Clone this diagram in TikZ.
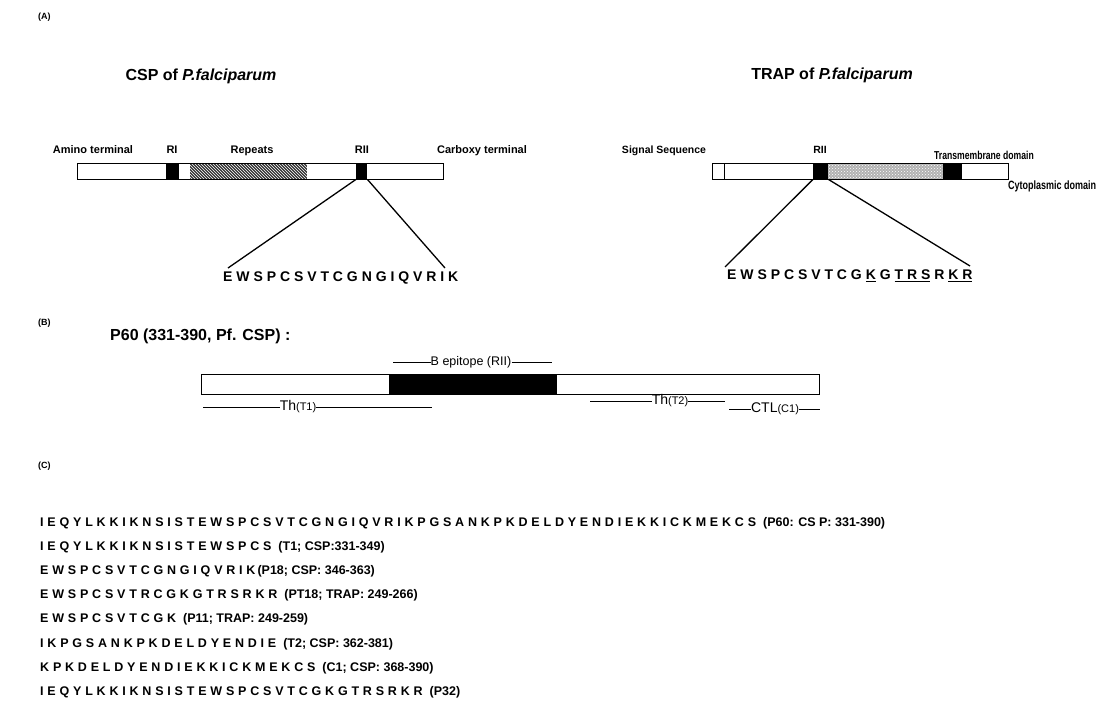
\documentclass[tikz,border=0pt]{standalone}
\usepackage{fontspec}
\setmainfont{Liberation Sans}
\newfontfamily\cond{Liberation Sans}[FakeStretch=0.75]
\usetikzlibrary{patterns}
\newlength\gapw
\newlength\tmpw
\makeatletter
\newcommand\spc[1]{\@tfor\@ch:=#1\do{\@ch\hspace{\gapw}}\unskip}
\makeatother
\newcommand\ua[1]{\settowidth\tmpw{#1}\addtolength\tmpw{\gapw}\rlap{\rule[-2.6pt]{\tmpw}{0.9pt}}#1}
\newcommand\ub[1]{\settowidth\tmpw{#1}\rlap{\rule[-2.6pt]{\tmpw}{0.9pt}}#1}
\newcommand\lbsm[1]{{\fontsize{12.5}{14}\selectfont #1}}
\begin{document}
\begin{tikzpicture}[x=1pt,y=-1pt,
  panel/.style={font=\fontsize{9}{10}\selectfont\bfseries, inner sep=0, anchor=west},
  title/.style={font=\fontsize{16}{18}\selectfont\bfseries, inner sep=0},
  lbl/.style={font=\fontsize{11}{13}\selectfont\bfseries, inner sep=0, anchor=base},
  tlbl/.style={font=\fontsize{10.5}{12}\selectfont\bfseries, inner sep=0, anchor=base},
  seqA/.style={font=\fontsize{14}{16}\selectfont\bfseries\setlength\gapw{3.9pt}, inner sep=0, anchor=west},
  row/.style={font=\fontsize{12.5}{14}\selectfont\bfseries\setlength\gapw{3.8pt}, inner sep=0, anchor=base west},
  outline/.style={draw, line width=1.1pt, inner sep=0, anchor=north west},
  seg/.style={inner sep=0, anchor=north west, minimum height=16pt},
  conn/.style={line width=1.3pt},
  thin/.style={line width=0.8pt},
  ep/.style={font=\fontsize{12.5}{14}\selectfont, inner sep=0},
  epl/.style={font=\fontsize{14}{16}\selectfont, inner sep=0}
]
\useasboundingbox (0,0) rectangle (1099,713);
\fill[white] (0,0) rectangle (1099,713);

% ---------- (A) ----------
\node[panel] (pa) at (38,17) {(A)};
\node[title] (csptitle) at (201,76) {CSP of \textit{P.falciparum}};
\node[title] (traptitle) at (832,75) {TRAP of \textit{P.falciparum}};

% CSP bar
\node[seg, fill=black, minimum width=13pt] (cspri) at (166,163) {};
\node[seg, fill=black!80, minimum width=117pt] (csprep) at (190,163) {};
\fill[pattern=north west lines, pattern color=white] (csprep.north west) rectangle (csprep.south east);
\node[seg, fill=black, minimum width=11pt] (csprii) at (356,163) {};
\node[outline, minimum width=366pt, minimum height=16pt] (cspbar) at (77,163) {};

\node[lbl] (amino) at (93,153) {Amino terminal};
\node[lbl] (rilbl) at (172,153) {RI};
\node[lbl] (replbl) at (252,153) {Repeats};
\node[lbl] (riilbl) at (362,153) {RII};
\node[lbl] (carb) at (482,153) {Carboxy terminal};

\node[seqA] (cspseq) at (223,278) {\spc{EWSPCSVTCGNGIQVRIK}};
\coordinate (cspL) at (228,268);
\coordinate (cspR) at (445,268);
\draw[conn] (csprii.south west) -- (cspL);
\draw[conn] (csprii.south east) -- (cspR);

% TRAP bar
\node[seg, fill=black, minimum width=15pt] (traprii) at (813,163) {};
\node[seg, fill=black!30, minimum width=115pt] (trapst) at (828,163) {};
\fill[pattern=crosshatch dots, pattern color=white] (trapst.north west) rectangle (trapst.south east);
\node[seg, fill=black, minimum width=19pt] (traptm) at (943,163) {};
\node[seg, draw, line width=1.1pt, minimum width=12pt] (trapsig) at (712,163) {};
\node[outline, minimum width=296pt, minimum height=16pt] (trapbar) at (712,163) {};

\node[tlbl] (sigl) at (664,153) {Signal Sequence};
\node[tlbl] (triil) at (820,153) {RII};
\node[tlbl, font=\fontsize{11.5}{13}\selectfont\bfseries\cond] (tml) at (984,159) {Transmembrane domain};
\node[tlbl, font=\fontsize{12}{13}\selectfont\bfseries\cond] (cytl) at (1052,189) {Cytoplasmic domain};

\node[seqA] (trapseq) at (727,276) {\spc{EWSPCSVTCG{\ub{K}}G{\ua{T}}{\ua{R}}{\ub{S}}R{\ua{K}}{\ub{R}}}};
\coordinate (trapL) at (725,267);
\coordinate (trapR) at (970,266);
\draw[conn] (traprii.south west) -- (trapL);
\draw[conn] (traprii.south east) -- (trapR);

% ---------- (B) ----------
\node[panel] (pb) at (38,323) {(B)};
\node[font=\fontsize{16}{18}\selectfont\bfseries, inner sep=0, anchor=west] (p60t) at (110,336) {P60 (331-390, Pf. CSP) :};

\node[seg, fill=black, minimum width=168pt, minimum height=20pt] (bepi) at (389,374) {};
\node[outline, minimum width=618pt, minimum height=20pt] (p60bar) at (201,374) {};

\node[ep] (blbl) at (471,362) {B epitope (RII)};
\coordinate (ba) at (393,362);
\coordinate (bb) at (552,362);
\draw[thin] (ba) -- (blbl.west);
\draw[thin] (blbl.east) -- (bb);

\node[epl] (tht1) at (298,407) {Th{\fontsize{11}{12}\selectfont(T1)}};
\coordinate (t1a) at (203,407);
\coordinate (t1b) at (432,407);
\draw[thin] (t1a) -- (tht1.west);
\draw[thin] (tht1.east) -- (t1b);

\node[epl] (tht2) at (670,401) {Th{\fontsize{11}{12}\selectfont(T2)}};
\coordinate (t2a) at (590,401);
\coordinate (t2b) at (725,401);
\draw[thin] (t2a) -- (tht2.west);
\draw[thin] (tht2.east) -- (t2b);

\node[epl] (ctl) at (775,409) {CTL{\fontsize{11}{12}\selectfont(C1)}};
\coordinate (c1a) at (729,409);
\coordinate (c1b) at (820,409);
\draw[thin] (c1a) -- (ctl.west);
\draw[thin] (ctl.east) -- (c1b);

% ---------- (C) ----------
\node[panel] (pc) at (38,466) {(C)};
\node[row] (r1) at (40,526) {\spc{IEQYLKKIKNSISTEWSPCSVTCGNGIQVRIKPGSANKPKDELDYENDIEKKICKMEKCS}\hspace{7pt}\lbsm{(P60: CS P: 331-390)}};
\node[row] (r2) at (40,550.2) {\spc{IEQYLKKIKNSISTEWSPCS}\hspace{7pt}\lbsm{(T1; CSP:331-349)}};
\node[row] (r3) at (40,574.4) {\spc{EWSPCSVTCGNGIQVRIK}\hspace{2pt}\lbsm{(P18; CSP: 346-363)}};
\node[row] (r4) at (40,598.6) {\spc{EWSPCSVTRCGKGTRSRKR}\hspace{7pt}\lbsm{(PT18; TRAP: 249-266)}};
\node[row] (r5) at (40,622.8) {\spc{EWSPCSVTCGK}\hspace{7pt}\lbsm{(P11; TRAP: 249-259)}};
\node[row] (r6) at (40,647) {\spc{IKPGSANKPKDELDYENDIE}\hspace{7pt}\lbsm{(T2; CSP: 362-381)}};
\node[row] (r7) at (40,671.2) {\spc{KPKDELDYENDIEKKICKMEKCS}\hspace{7pt}\lbsm{(C1; CSP: 368-390)}};
\node[row] (r8) at (40,695.4) {\spc{IEQYLKKIKNSISTEWSPCSVTCGKGTRSRKR}\hspace{7pt}\lbsm{(P32)}};
\end{tikzpicture}
\end{document}
